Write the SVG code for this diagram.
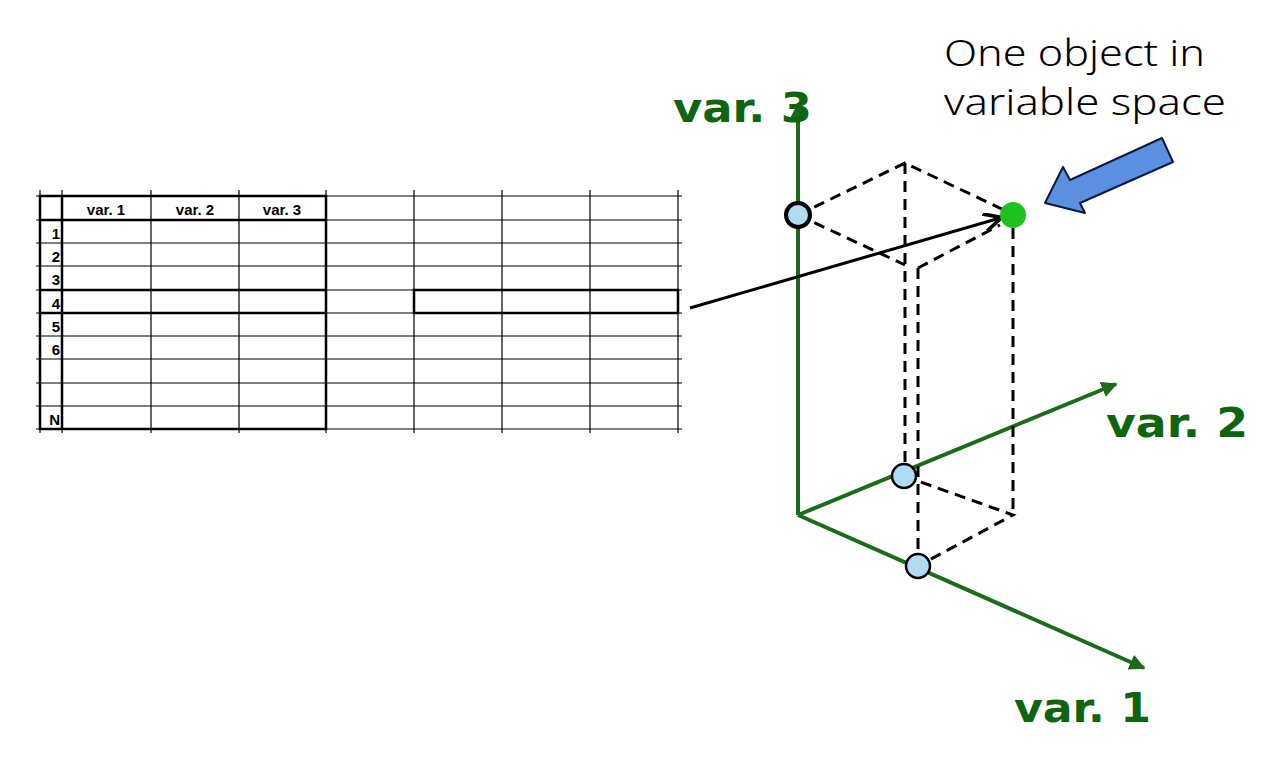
<svg xmlns="http://www.w3.org/2000/svg" width="1280" height="766" viewBox="0 0 1280 766">
<defs>
<style>
.g{stroke:#000;stroke-width:1.2;fill:none}
.t{stroke:#000;stroke-width:2.5;fill:none}
.hd{font-family:"Liberation Sans",sans-serif;font-weight:bold;font-size:15px;fill:#000}
.ax{stroke:#1b6b1b;stroke-width:4;fill:none}
.lbl{font-family:"DejaVu Sans",sans-serif;font-weight:bold;font-size:40px;fill:#0f650f}
.d{stroke:#000;stroke-width:3;stroke-dasharray:11 7;fill:none}
.pt{fill:#aedcf2;stroke:#000;stroke-width:2.5}
.cap{font-family:"Noto Sans","Open Sans",sans-serif;font-weight:300;font-size:37px;fill:#000}
</style>
<marker id="ga" viewBox="0 0 10 10" refX="9" refY="5" markerWidth="4" markerHeight="4" orient="auto"><path d="M0,0L10,5L0,10z" fill="#1b6b1b"/></marker>
<marker id="ka" viewBox="0 0 10 10" refX="9" refY="5" markerWidth="6" markerHeight="6" orient="auto"><path d="M0,0L10,5L0,10" fill="none" stroke="#000" stroke-width="2"/></marker>
</defs>
<g id="table">
<g class="g">
<path d="M36,196H682M36,220H682M36,243H682M36,266H682M36,290H682M36,313H682M36,336H682M36,359H682M36,383H682M36,406H682M36,429H682"/>
<path d="M40,190V433M62,190V433M151,190V433M239,190V433M326,190V433M414,190V433M502,190V433M590,190V433M678,190V433"/>
</g>
<g class="t">
<rect x="40" y="196" width="286" height="233"/>
<path d="M62,196V429M40,220H326M40,290H326M40,313H326"/>
<rect x="414" y="290" width="264" height="23"/>
</g>
<text class="hd" x="106" y="215" text-anchor="middle">var. 1</text>
<text class="hd" x="195" y="215" text-anchor="middle">var. 2</text>
<text class="hd" x="282" y="215" text-anchor="middle">var. 3</text>
<g class="hd" text-anchor="end">
<text x="60" y="239">1</text><text x="60" y="262">2</text><text x="60" y="285">3</text><text x="60" y="309">4</text><text x="60" y="332">5</text><text x="60" y="355">6</text><text x="60" y="425">N</text>
</g>
</g>
<g id="axes">
<path class="ax" d="M798,515V104" marker-end="url(#ga)"/>
<path class="ax" d="M798,515L1116,384" marker-end="url(#ga)"/>
<path class="ax" d="M798,515L1144,668" marker-end="url(#ga)"/>
<text class="lbl" x="673" y="122" textLength="139" lengthAdjust="spacingAndGlyphs">var. 3</text>
<text class="lbl" x="1106" y="437" textLength="142" lengthAdjust="spacingAndGlyphs">var. 2</text>
<text class="lbl" x="1014" y="722" textLength="137" lengthAdjust="spacingAndGlyphs">var. 1</text>
</g>
<g id="connectors">
<path class="d" d="M798,215L905,163L1010,213M798,215L905,265M918,268L1000,225M905,163V475M918,268V566M1013,228V515M904,476L1013,515L918,566"/>
<path d="M690,308L1000,218" stroke="#000" stroke-width="3" fill="none" marker-end="url(#ka)"/>
</g>
<g id="points">
<circle class="pt" cx="798" cy="215" r="12" style="stroke-width:4"/>
<circle class="pt" cx="904" cy="476" r="12"/>
<circle class="pt" cx="918" cy="566" r="12"/>
<circle id="object" cx="1013" cy="215" r="13" fill="#1ec21e"/>
</g>
<g id="caption">
<text class="cap" x="944" y="66" textLength="261" lengthAdjust="spacingAndGlyphs">One object in</text>
<text class="cap" x="944" y="115" textLength="282" lengthAdjust="spacingAndGlyphs">variable space</text>
<polygon points="1045,203 1063,167 1070,180 1162,138 1173,162 1080,203 1085,213" fill="#5b8fe0" stroke="#0a1a40" stroke-width="2" stroke-linejoin="round"/>
</g>
</svg>
